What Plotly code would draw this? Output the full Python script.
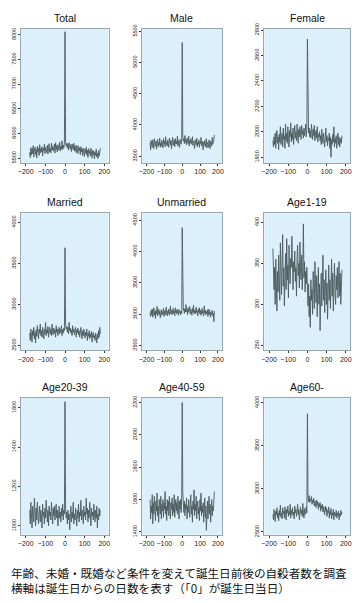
import plotly.graph_objects as go

days = list(range(-180, 181, 3))

titles = ["Total", "Male", "Female", "Married", "Unmarried", "Age1-19",
          "Age20-39", "Age40-59", "Age60-"]

total = [5620, 5510, 5710, 5560, 5690, 5590, 5750, 5520, 5660, 5720,
         5570, 5680, 5500, 5740, 5620, 5700, 5550, 5770, 5600, 5690,
         5630, 5730, 5540, 5700, 5640, 5780, 5590, 5720, 5660, 5610,
         5760, 5580, 5710, 5790, 5620, 5700, 5600, 5800, 5660, 5740,
         5640, 5720, 5780, 5600, 5810, 5670, 5750, 5620, 5770, 5690,
         5660, 5820, 5640, 5740, 5680, 5850, 5670, 5760, 5700, 5800,
         8060,
         5830, 5740, 5800, 5700, 5790, 5660, 5810, 5720, 5680, 5770,
         5630, 5780, 5700, 5670, 5800, 5640, 5750, 5690, 5610, 5760,
         5670, 5590, 5740, 5650, 5710, 5570, 5730, 5630, 5690, 5550,
         5700, 5620, 5530, 5680, 5600, 5720, 5560, 5660, 5510, 5690,
         5590, 5650, 5540, 5700, 5580, 5500, 5660, 5560, 5640, 5480,
         5620, 5550, 5680, 5520, 5600, 5490, 5650, 5540, 5610, 5700]

male = [3720, 3600, 3750, 3680, 3640, 3760, 3700, 3620, 3780, 3690,
        3660, 3740, 3610, 3700, 3770, 3650, 3720, 3680, 3790, 3640,
        3710, 3660, 3750, 3690, 3630, 3780, 3700, 3740, 3650, 3810,
        3690, 3720, 3660, 3760, 3700, 3640, 3790, 3710, 3680, 3750,
        3620, 3730, 3800, 3670, 3720, 3760, 3650, 3780, 3700, 3740,
        3690, 3820, 3660, 3750, 3710, 3640, 3770, 3720, 3690, 3780,
        5320,
        3800, 3740, 3780, 3700, 3830, 3720, 3760, 3680, 3790, 3740,
        3700, 3820, 3660, 3750, 3710, 3780, 3690, 3730, 3810, 3670,
        3740, 3700, 3620, 3760, 3710, 3680, 3790, 3650, 3720, 3690,
        3760, 3640, 3730, 3700, 3800, 3660, 3710, 3740, 3600, 3720,
        3680, 3750, 3650, 3700, 3780, 3630, 3720, 3690, 3640, 3760,
        3680, 3620, 3740, 3700, 3660, 3800, 3690, 3730, 3760, 3840]

female = [1930, 1880, 1960, 1900, 1990, 1870, 1950, 2010, 1910, 1960,
          1860, 1980, 1920, 2040, 1900, 1950, 1990, 1880, 2030, 1940,
          1970, 1870, 2060, 1930, 1990, 1910, 2040, 1950, 1880, 2010,
          1960, 2070, 1920, 1990, 1940, 2030, 1900, 1980, 2050, 1950,
          2000, 1930, 2060, 1970, 1910, 2020, 1960, 2040, 1990, 1940,
          2050, 1980, 2010, 1950, 2030, 1970, 2000, 2060, 1960, 2020,
          2730,
          2040, 1990, 2030, 1960, 2010, 1950, 2060, 1980, 1940, 2020,
          1970, 2050, 1930, 1990, 2010, 1950, 2040, 1920, 1980, 1960,
          2000, 1930, 1970, 1900, 2020, 1950, 1910, 1990, 1940, 1880,
          1960, 2030, 1920, 1970, 1890, 1950, 1930, 1990, 1870, 1960,
          1800, 1940, 1900, 1980, 1920, 2040, 1880, 1950, 1910, 1970,
          1870, 1940, 1990, 1900, 1960, 1880, 1920, 1950, 1910, 1970]

married = [2650, 2560, 2700, 2600, 2540, 2680, 2620, 2720, 2580, 2660,
           2530, 2690, 2610, 2740, 2640, 2580, 2700, 2650, 2760, 2620,
           2680, 2600, 2720, 2660, 2580, 2700, 2640, 2780, 2620, 2690,
           2650, 2730, 2600, 2680, 2720, 2640, 2700, 2620, 2760, 2670,
           2630, 2710, 2650, 2690, 2600, 2740, 2660, 2700, 2620, 2680,
           2720, 2640, 2700, 2660, 2740, 2620, 2690, 2650, 2710, 2680,
           3690,
           2760, 2700, 2730, 2660, 2720, 2640, 2780, 2680, 2710, 2650,
           2690, 2620, 2740, 2660, 2700, 2630, 2680, 2720, 2600, 2690,
           2650, 2710, 2630, 2680, 2600, 2660, 2720, 2640, 2580, 2680,
           2620, 2700, 2640, 2590, 2660, 2620, 2700, 2560, 2650, 2610,
           2680, 2580, 2640, 2600, 2670, 2540, 2630, 2660, 2590, 2620,
           2560, 2650, 2600, 2530, 2640, 2580, 2680, 2600, 2720, 2640]

unmarried = [3020, 2960, 3060, 2990, 3080, 2950, 3030, 3100, 2980, 3040,
             2930, 3060, 3000, 3120, 2970, 3030, 3080, 2990, 3050, 2940,
             3010, 3070, 2980, 3040, 3000, 3090, 2960, 3030, 3060, 2990,
             3110, 3020, 2970, 3050, 3010, 3080, 2980, 3040, 3130, 3000,
             3060, 2990, 3030, 3090, 3010, 3050, 2970, 3100, 3020, 3060,
             3000, 3080, 3030, 2980, 3070, 3020, 3050, 2990, 3040, 3010,
             4380,
             3120, 3060, 3090, 3010, 3080, 3030, 3150, 3040, 3070, 2990,
             3100, 3030, 3060, 3120, 3000, 3080, 3040, 2980, 3090, 3030,
             3140, 3010, 3060, 3000, 3070, 3110, 3020, 3050, 2970, 3080,
             3030, 3100, 3000, 3060, 2980, 3040, 3090, 3010, 3050, 2970,
             3130, 3020, 3060, 2990, 3040, 3000, 3070, 2960, 3030, 3080,
             2990, 3040, 2950, 3020, 3000, 3060, 2970, 3010, 2880, 3050]

age1_19 = [368, 330, 318, 345, 300, 355, 325, 292, 340, 315,
           360, 328, 305, 375, 338, 312, 350, 385, 322, 345,
           298, 336, 362, 318, 380, 330, 348, 308, 372, 340,
           325, 356, 345, 383, 330, 318, 352, 340, 365, 328,
           345, 310, 358, 372, 335, 350, 320, 376, 342, 330,
           360, 318, 346, 398, 332, 352, 315, 340, 325, 345,
           320,
           298, 325, 285, 310, 272, 330, 305, 318, 288, 340,
           312, 295, 352, 320, 302, 335, 285, 318, 345, 300,
           325, 268, 315, 338, 298, 320, 360, 305, 330, 290,
           318, 342, 300, 326, 282, 312, 348, 305, 330, 295,
           322, 355, 310, 338, 292, 325, 350, 315, 300, 335,
           318, 345, 308, 328, 352, 310, 338, 300, 325, 342]

age20_39 = [1080, 1010, 1120, 1040, 990, 1100, 1060, 1020, 1140, 1050,
            1000, 1090, 1030, 1120, 1070, 1010, 1060, 1100, 1020, 1080,
            1040, 990, 1110, 1050, 1070, 1010, 1090, 1040, 1130, 1060,
            1020, 1080, 1000, 1100, 1050, 1070, 1030, 1120, 1060, 1010,
            1090, 1050, 1100, 1030, 1070, 1110, 1040, 1080, 1000, 1060,
            1100, 1040, 1070, 1020, 1090, 1050, 1110, 1030, 1080, 1060,
            1630,
            1090, 1040, 1070, 1010, 1080, 1030, 1060, 980, 1050, 1100,
            1020, 1070, 1040, 1120, 1010, 1060, 1030, 1090, 1050, 1000,
            1080, 1040, 1110, 1020, 1070, 1050, 1130, 1030, 1080, 1060,
            1010, 1100, 1050, 1070, 1030, 1140, 1060, 1090, 1020, 1080,
            1040, 1120, 1060, 1000, 1090, 1050, 1070, 1030, 1110, 1060,
            1020, 1080, 1040, 1100, 990, 1060, 1030, 1090, 1050, 1080]

age40_59 = [1600, 1480, 1560, 1520, 1630, 1450, 1580, 1510, 1620, 1540,
            1470, 1590, 1530, 1640, 1500, 1560, 1460, 1600, 1550, 1510,
            1620, 1480, 1570, 1530, 1600, 1490, 1580, 1540, 1650, 1510,
            1560, 1470, 1600, 1530, 1590, 1500, 1620, 1550, 1480, 1580,
            1540, 1610, 1500, 1570, 1520, 1630, 1490, 1560, 1600, 1530,
            1580, 1510, 1620, 1550, 1480, 1590, 1540, 1600, 1520, 1630,
            2200,
            1650, 1560, 1520, 1590, 1500, 1570, 1540, 1610, 1480, 1560,
            1520, 1600, 1550, 1490, 1580, 1630, 1510, 1560, 1460, 1590,
            1540, 1660, 1500, 1570, 1530, 1620, 1480, 1560, 1590, 1510,
            1550, 1470, 1600, 1530, 1640, 1500, 1560, 1520, 1580, 1460,
            1540, 1610, 1490, 1560, 1410, 1530, 1590, 1480, 1550, 1620,
            1510, 1570, 1460, 1540, 1600, 1500, 1560, 1530, 1590, 1650]

age60 = [2700, 2640, 2760, 2680, 2620, 2740, 2700, 2780, 2660, 2720,
         2630, 2750, 2690, 2810, 2670, 2720, 2650, 2780, 2710, 2740,
         2660, 2790, 2700, 2640, 2760, 2720, 2800, 2680, 2740, 2700,
         2820, 2660, 2750, 2710, 2780, 2690, 2730, 2650, 2800, 2720,
         2760, 2680, 2740, 2820, 2700, 2760, 2640, 2730, 2790, 2710,
         2750, 2680, 2830, 2720, 2660, 2770, 2700, 2740, 2790, 2720,
         3870,
         2900, 2850, 2920, 2840, 2880, 2860, 2910, 2820, 2870, 2840,
         2890, 2800, 2860, 2830, 2780, 2870, 2810, 2850, 2760, 2830,
         2790, 2840, 2740, 2810, 2770, 2820, 2730, 2790, 2760, 2700,
         2800, 2740, 2780, 2680, 2750, 2720, 2790, 2660, 2740, 2700,
         2770, 2650, 2720, 2690, 2760, 2640, 2730, 2700, 2680, 2750,
         2660, 2720, 2690, 2740, 2640, 2710, 2680, 2750, 2700, 2730]

series = [total, male, female, married, unmarried, age1_19,
          age20_39, age40_59, age60]

y_ranges = [[5400, 8120], [3390, 5540], [1755, 2810],
            [2440, 4110], [2420, 4610], [244, 411],
            [955, 1650], [1382, 2230], [2466, 4057]]
y_ticks = [[5500, 6000, 6500, 7000, 7500, 8000],
           [3500, 4000, 4500, 5000, 5500],
           [1800, 2000, 2200, 2400, 2600, 2800],
           [2500, 3000, 3500, 4000],
           [2500, 3000, 3500, 4000, 4500],
           [250, 300, 350, 400],
           [1000, 1200, 1400, 1600],
           [1400, 1600, 1800, 2000, 2200],
           [2500, 3000, 3500, 4000]]
x_ticks = [-200, -100, 0, 100, 200]

# The page body has an 8px margin, so the figure is drawn 8px in and
# its size is reduced so it fits the 360x603 window without scrolling.
OFF = 8
W, H = 360 - 2 * OFF, 603 - 2 * OFF


def fx(px):
    return (px - OFF) / W


def fy(py):
    return 1 - (py - OFF) / H


# target pixel boxes in the window: (left, right) and (top, bottom)
col_px = [(18, 107), (141, 222), (265, 352)]
row_px = [(23, 159), (210, 349), (397, 536)]

fig = go.Figure()
annotations = []
for i, (name, vals) in enumerate(zip(titles, series)):
    r, c = divmod(i, 3)
    l, rr = col_px[c]
    t, b = row_px[r]
    xa = "x" if i == 0 else f"x{i+1}"
    ya = "y" if i == 0 else f"y{i+1}"
    xkey = "xaxis" if i == 0 else f"xaxis{i+1}"
    ykey = "yaxis" if i == 0 else f"yaxis{i+1}"
    fig.add_trace(go.Scatter(x=days, y=vals, mode="lines",
                             line=dict(color="#4b5a5c", width=0.9),
                             xaxis=xa, yaxis=ya, showlegend=False,
                             hoverinfo="skip"))
    fig.layout[xkey] = dict(domain=[fx(l), fx(rr)], anchor=ya,
                            range=[-225, 222], tickvals=x_ticks,
                            tickangle=0,
                            ticks="outside", ticklen=2, tickwidth=0.6,
                            tickcolor="#333", showgrid=False, zeroline=False,
                            showline=True, linecolor="#9aa6ad", linewidth=1,
                            mirror=True,
                            tickfont=dict(size=7, family="Liberation Sans", color="#222"))
    fig.layout[ykey] = dict(domain=[fy(b), fy(t)], anchor=xa,
                            range=y_ranges[i], tickvals=y_ticks[i],
                            ticks="outside", ticklen=2, tickwidth=0.6,
                            tickcolor="#333", showgrid=False, zeroline=False,
                            showline=True, linecolor="#9aa6ad", linewidth=1,
                            mirror=True, tickangle=-90,
                            tickfont=dict(size=5.5, family="Liberation Sans", color="#222"))
    annotations.append(dict(text=name, x=(fx(l) + fx(rr)) / 2, y=fy(t - 3),
                            xref="paper", yref="paper", xanchor="center",
                            yanchor="bottom", showarrow=False,
                            font=dict(size=10.5, family="Liberation Sans", color="#111")))

annotations.append(dict(text="年齢、未婚・既婚など条件を変えて誕生日前後の自殺者数を調査<br>横軸は誕生日からの日数を表す（「0」が誕生日当日）",
                        x=fx(6), y=fy(565), xref="paper", yref="paper",
                        xanchor="left", yanchor="top", align="left",
                        showarrow=False,
                        font=dict(size=11.6, family="Noto Sans CJK JP", color="#111")))

fig.update_layout(width=W, height=H, margin=dict(l=0, r=0, t=0, b=0),
                  paper_bgcolor="white", plot_bgcolor="#dcf0fc",
                  annotations=annotations)

fig.write_html("out.html")
